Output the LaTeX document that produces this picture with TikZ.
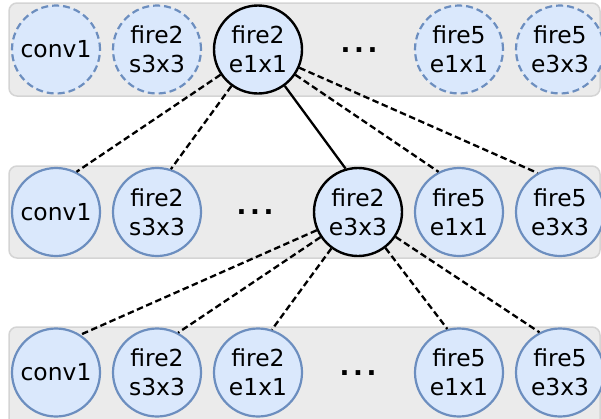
\documentclass[tikz,border=0pt]{standalone}
\usepackage{fontspec}
\setmainfont{DejaVu Sans}
\definecolor{rowfill}{HTML}{EBEBEB}
\definecolor{rowdraw}{HTML}{D4D4D4}
\definecolor{cfill}{HTML}{DAE8FC}
\definecolor{cdraw}{HTML}{6C8EBF}
\tikzset{
  rowbox/.style={fill=rowfill, draw=rowdraw, line width=1.5pt, rounded corners=8pt},
  layer/.style={circle, minimum size=88pt, inner sep=0pt, fill=cfill, draw=cdraw,
    line width=2.2pt, align=center, font=\fontsize{23.4}{29}\selectfont},
  ghost/.style={layer, dash pattern=on 7pt off 4pt},
  picked/.style={layer, draw=black, line width=2.4pt},
  dots/.style={anchor=base, inner sep=0pt, font=\fontsize{26}{30}\selectfont\bfseries},
  dlink/.style={line width=2.3pt, dash pattern=on 6.5pt off 3.5pt},
  slink/.style={line width=2.3pt},
}
\newcommand{\mydots}{.\kern3.6pt.\kern3.6pt.}
\begin{document}
\begin{tikzpicture}[x=1pt, y=-1pt]
\useasboundingbox (0,0) rectangle (601,418);
\begin{scope}
\clip (0,0) rectangle (601,418);
% row boxes
\draw[rowbox] (9,3) rectangle (600,96);
\draw[rowbox] (9,166) rectangle (600,258);
\draw[rowbox] (9,327) rectangle (600,430);
% row 1
\node[ghost] (a1) at (56,49.5) {conv1};
\node[ghost] (a2) at (157,49.5) {fire2\\s3x3};
\node[picked] (a3) at (258,49.5) {fire2\\e1x1};
\node[dots] (ad) at (359,52) {\mydots};
\node[ghost] (a4) at (459,49.5) {fire5\\e1x1};
\node[ghost] (a5) at (560,49.5) {fire5\\e3x3};
% row 2
\node[layer] (b1) at (56,212) {conv1};
\node[layer] (b2) at (157,212) {fire2\\s3x3};
\node[dots] (bd) at (255,214.5) {\mydots};
\node[picked] (b3) at (358,212) {fire2\\e3x3};
\node[layer] (b4) at (459,212) {fire5\\e1x1};
\node[layer] (b5) at (560,212) {fire5\\e3x3};
% row 3
\node[layer] (c1) at (56,372.5) {conv1};
\node[layer] (c2) at (157,372.5) {fire2\\s3x3};
\node[layer] (c3) at (258,372.5) {fire2\\e1x1};
\node[dots] (cd) at (358,375) {\mydots};
\node[layer] (c4) at (459,372.5) {fire5\\e1x1};
\node[layer] (c5) at (560,372.5) {fire5\\e3x3};
% links row 1 -> row 2
\draw[dlink] (a3) -- (b1.63);
\draw[dlink] (a3) -- (b2.72);
\draw[slink] (a3) -- (b3.106);
\draw[dlink] (a3) -- (b4.117);
\draw[dlink] (a3) -- (b5.120);
% links row 2 -> row 3
\draw[dlink] (b3) -- (c1.57);
\draw[dlink] (b3) -- (c2.62);
\draw[dlink] (b3) -- (c3.72);
\draw[dlink] (b3) -- (c4.105);
\draw[dlink] (b3) -- (c5.117);
\end{scope}
\end{tikzpicture}
\end{document}
